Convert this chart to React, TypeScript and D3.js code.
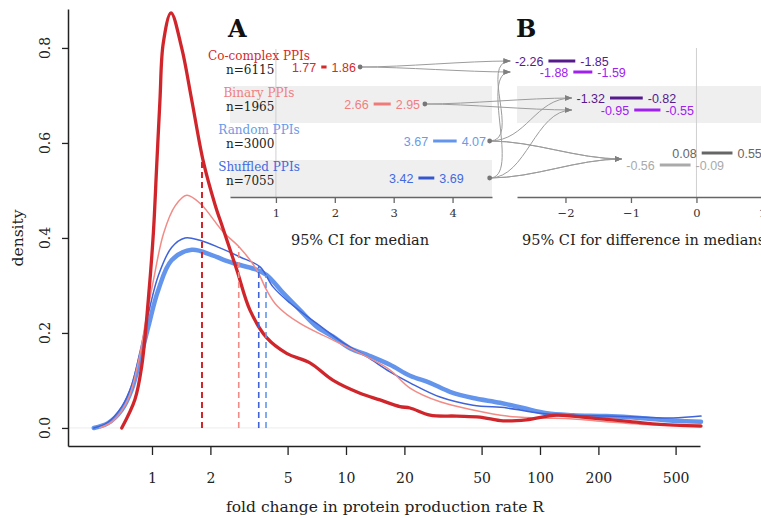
import { useEffect, useRef } from 'react';
import * as d3 from 'd3';

type Pt = [number, number];

// density curves: [log10 fold change, density]
const coComplex: Pt[] = [
  [-0.156, 0], [-0.088, 0.06], [-0.053, 0.13], [-0.019, 0.27], [0.007, 0.41], [0.024, 0.55],
  [0.041, 0.69], [0.058, 0.81], [0.098, 0.874], [0.153, 0.8], [0.205, 0.69], [0.265, 0.56],
  [0.325, 0.47], [0.366, 0.42], [0.437, 0.333], [0.505, 0.248], [0.591, 0.19], [0.694, 0.157],
  [0.814, 0.137], [0.934, 0.1], [1.072, 0.073], [1.175, 0.059], [1.278, 0.045], [1.33, 0.042],
  [1.433, 0.027], [1.57, 0.025], [1.69, 0.023], [1.81, 0.015], [1.93, 0.017], [2.086, 0.027],
  [2.258, 0.021], [2.43, 0.015], [2.6, 0.008], [2.83, 0.004],
];
const binary: Pt[] = [
  [-0.27, 0], [-0.2, 0.015], [-0.124, 0.06], [-0.07, 0.14], [-0.03, 0.23], [0.007, 0.31],
  [0.06, 0.41], [0.12, 0.468], [0.179, 0.49], [0.25, 0.472], [0.366, 0.413], [0.454, 0.379],
  [0.54, 0.333], [0.591, 0.29], [0.643, 0.258], [0.763, 0.22], [0.934, 0.185], [1.107, 0.15],
  [1.227, 0.122], [1.33, 0.084], [1.485, 0.055], [1.655, 0.038], [1.83, 0.025], [2.0, 0.021],
  [2.17, 0.019], [2.34, 0.013], [2.515, 0.008], [2.83, 0.006],
];
const random: Pt[] = [
  [-0.3, 0], [-0.227, 0.01], [-0.156, 0.038], [-0.105, 0.08], [-0.062, 0.143], [-0.019, 0.213],
  [0.032, 0.29], [0.101, 0.353], [0.205, 0.375], [0.308, 0.364], [0.376, 0.353], [0.454, 0.343],
  [0.54, 0.333], [0.591, 0.322], [0.677, 0.284], [0.763, 0.248], [0.849, 0.213], [0.934, 0.192],
  [1.02, 0.168], [1.12, 0.152], [1.227, 0.133], [1.33, 0.11], [1.433, 0.095], [1.536, 0.076],
  [1.655, 0.063], [1.794, 0.053], [1.914, 0.042], [2.035, 0.031], [2.17, 0.027], [2.34, 0.025],
  [2.515, 0.021], [2.686, 0.015], [2.83, 0.013],
];
const shuffled: Pt[] = [
  [-0.3, 0], [-0.227, 0.012], [-0.156, 0.045], [-0.105, 0.09], [-0.062, 0.16], [-0.019, 0.24],
  [0.032, 0.32], [0.101, 0.38], [0.17, 0.4], [0.247, 0.395], [0.35, 0.379], [0.454, 0.36],
  [0.557, 0.339], [0.624, 0.297], [0.711, 0.263], [0.849, 0.22], [0.986, 0.179], [1.107, 0.15],
  [1.227, 0.118], [1.33, 0.095], [1.485, 0.065], [1.655, 0.048], [1.83, 0.042], [2.0, 0.031],
  [2.17, 0.027], [2.34, 0.025], [2.515, 0.023], [2.686, 0.021], [2.83, 0.025],
];

const groupNames = ['Co-complex PPIs', 'Binary PPIs', 'Random PPIs', 'Shuffled PPIs'];
const groupN = [6115, 1965, 3000, 7055];
const medians = [1.81, 2.8, 3.87, 3.55];
const medianCI: [number, number][] = [[1.77, 1.86], [2.66, 2.95], [3.67, 4.07], [3.42, 3.69]];
const anchorValues = [2.43, 3.53, 4.63, 4.63];

// differences in medians and which groups they compare
const diffCI: [number, number][] = [
  [-2.26, -1.85], [-1.88, -1.59], [-1.32, -0.82], [-0.95, -0.55], [0.08, 0.55], [-0.56, -0.09],
];
const diffPairs: [number, number][] = [[0, 2], [0, 3], [1, 2], [1, 3], [2, 3], [3, 2]];

const xTicks = [1, 2, 5, 10, 20, 50, 100, 200, 500];
const yTicks = [0, 0.2, 0.4, 0.6, 0.8];
const aTicks = [1, 2, 3, 4];
const bTicks = [-2, -1, 0, 1];

const curves = [coComplex, binary, random, shuffled];
const curveColors = ['#d0262b', '#f28b86', '#6495ed', '#3f63d8'];
const curveWidths = [3.3, 1.5, 4.5, 1.5];
const textColors = ['#d42a2a', '#f08080', '#6a9be8', '#4169e1'];
const segColors = ['#d42a2a', '#f07a7a', '#6495ed', '#3556cc'];
const diffColors = ['#551a8b', '#a020f0', '#551a8b', '#a020f0', '#666666', '#aaaaaa'];
const diffRowY = [61, 72, 98, 110, 153, 165];
const diffTipY = [61, 72, 98, 110, 159, 159];

const SERIF = "'DejaVu Serif', serif";
const SANS = "'Liberation Sans', Arial, sans-serif";

function interp(series: Pt[], lg: number) {
  for (let i = 1; i < series.length; i++) {
    const [x0, y0] = series[i - 1];
    const [x1, y1] = series[i];
    if (lg >= x0 && lg <= x1) return y0 + ((lg - x0) / (x1 - x0)) * (y1 - y0);
  }
  return 0;
}

export default function App() {
  const svgRef = useRef<SVGSVGElement>(null);

  useEffect(() => {
    if (!svgRef.current) return;
    const svg = d3.select(svgRef.current);
    svg.selectAll('*').remove();

    const x = d3.scaleLog().domain([0.369, 668]).range([68, 700]);
    const y = d3.scaleLinear().domain([-0.038, 0.882]).range([446, 9]);

    svg.append('defs').append('marker')
      .attr('id', 'arr')
      .attr('viewBox', '0 0 10 10')
      .attr('refX', 10).attr('refY', 5)
      .attr('markerWidth', 7).attr('markerHeight', 7)
      .attr('orient', 'auto')
      .append('path').attr('d', 'M0,1L10,5L0,9z').attr('fill', '#808080');

    // zero line
    svg.append('line')
      .attr('x1', 68).attr('x2', 700)
      .attr('y1', y(0)).attr('y2', y(0))
      .attr('stroke', '#ececec');

    // axes
    const xAxis = svg.append('g')
      .attr('transform', 'translate(0,446)')
      .call(d3.axisBottom(x).tickValues(xTicks).tickFormat(d3.format('d'))
        .tickSize(9).tickSizeOuter(0).tickPadding(18));
    const yAxis = svg.append('g')
      .attr('transform', 'translate(68,0)')
      .call(d3.axisLeft(y).tickValues(yTicks).tickFormat(() => '')
        .tickSize(6).tickSizeOuter(0));
    [xAxis, yAxis].forEach(a => {
      a.select('.domain').attr('stroke', '#222').attr('stroke-width', 1.5);
      a.selectAll('.tick line').attr('stroke', '#222').attr('stroke-width', 1.3);
      a.selectAll('text').attr('font-family', SERIF).attr('font-size', 14).attr('fill', '#222');
    });
    svg.selectAll('.ytl').data(yTicks).enter().append('text')
      .attr('transform', d => `translate(50,${y(d)}) rotate(-90)`)
      .attr('text-anchor', 'middle')
      .attr('font-family', SERIF).attr('font-size', 14).attr('fill', '#222')
      .text(d => d3.format('.1f')(d));

    svg.append('text')
      .attr('transform', `translate(23,${y(0.4)}) rotate(-90)`)
      .attr('text-anchor', 'middle')
      .attr('font-family', SERIF).attr('font-size', 15.5).attr('fill', '#222')
      .text('density');
    svg.append('text')
      .attr('x', 385).attr('y', 512)
      .attr('text-anchor', 'middle')
      .attr('font-family', SERIF).attr('font-size', 15.5).attr('fill', '#222')
      .text('fold change in protein production rate R');

    // density curves
    const line = d3.line<Pt>()
      .x(d => x(10 ** d[0]))
      .y(d => y(d[1]))
      .curve(d3.curveCatmullRom.alpha(0.5));
    [2, 3, 1, 0].forEach(i => {
      svg.append('path')
        .datum(curves[i])
        .attr('fill', 'none')
        .attr('stroke', curveColors[i])
        .attr('stroke-width', curveWidths[i])
        .attr('stroke-linejoin', 'round')
        .attr('stroke-linecap', 'round')
        .attr('d', line);
    });

    // median markers
    medians.forEach((m, i) => {
      svg.append('line')
        .attr('x1', x(m)).attr('x2', x(m))
        .attr('y1', y(0)).attr('y2', y(interp(curves[i], Math.log10(m))))
        .attr('stroke', curveColors[i])
        .attr('stroke-width', i === 0 ? 2 : 1.6)
        .attr('stroke-dasharray', '6,4');
    });

    // ---------- inset A ----------
    const xA = d3.scaleLinear().domain([0.22, 4.67]).range([230, 492]);
    const rowTop = (i: number) => 49 + 37 * i;

    [1, 3].forEach(i => {
      svg.append('rect')
        .attr('x', 230).attr('y', rowTop(i))
        .attr('width', 262).attr('height', 37)
        .attr('fill', '#efefef');
    });
    svg.append('rect')
      .attr('x', 517).attr('y', rowTop(1))
      .attr('width', 250).attr('height', 37)
      .attr('fill', '#efefef');

    svg.append('line')
      .attr('x1', xA(1)).attr('x2', xA(1)).attr('y1', 49).attr('y2', 197)
      .attr('stroke', '#cfcfcf');

    const aAxis = svg.append('g')
      .attr('transform', 'translate(0,197)')
      .call(d3.axisBottom(xA).tickValues(aTicks).tickFormat(d3.format('d'))
        .tickSize(6).tickSizeOuter(0).tickPadding(6));

    // ---------- inset B ----------
    const xB = d3.scaleLinear().domain([-2.74, 1.1]).range([517, 768.5]);
    svg.append('line')
      .attr('x1', xB(0)).attr('x2', xB(0)).attr('y1', 48).attr('y2', 197)
      .attr('stroke', '#cfcfcf');
    const bAxis = svg.append('g')
      .attr('transform', 'translate(0,197)')
      .call(d3.axisBottom(xB).tickValues(bTicks).tickFormat(d3.format('d'))
        .tickSize(6).tickSizeOuter(0).tickPadding(6));

    [aAxis, bAxis].forEach(a => {
      a.select('.domain').attr('stroke', '#666').attr('stroke-width', 1.5);
      a.selectAll('.tick line').attr('stroke', '#666').attr('stroke-width', 1.3);
      a.selectAll('text').attr('font-family', SERIF).attr('font-size', 11.5).attr('fill', '#333');
    });

    svg.append('text')
      .attr('x', 360).attr('y', 245)
      .attr('text-anchor', 'middle')
      .attr('font-family', SERIF).attr('font-size', 14.5).attr('fill', '#222')
      .text('95% CI for median');
    svg.append('text')
      .attr('x', 522).attr('y', 245)
      .attr('font-family', SERIF).attr('font-size', 14.5).attr('fill', '#222')
      .text('95% CI for difference in medians');

    svg.append('text')
      .attr('x', 228).attr('y', 37)
      .attr('font-family', SERIF).attr('font-weight', 'bold').attr('font-size', 24)
      .attr('fill', '#111').text('A');
    svg.append('text')
      .attr('x', 516).attr('y', 37)
      .attr('font-family', SERIF).attr('font-weight', 'bold').attr('font-size', 24)
      .attr('fill', '#111').text('B');

    // arrows from groups to comparisons
    const arrows = svg.append('g');
    diffCI.forEach((ci, i) => {
      const row = Math.floor(i / 2);
      const tipX = Math.min(xB(diffCI[row * 2][0]), xB(diffCI[row * 2 + 1][0])) - 38;
      const tipY = diffTipY[i];
      diffPairs[i].forEach(g => {
        const x0 = xA(anchorValues[g]);
        const y0 = rowTop(g) + 18;
        const dx = tipX - x0;
        const k = dx < 40 ? 32 : Math.min(dx * 0.45, 45);
        const p = d3.path();
        p.moveTo(x0, y0);
        p.bezierCurveTo(x0 + k, y0, tipX - k, tipY, tipX, tipY);
        arrows.append('path')
          .attr('d', p.toString())
          .attr('fill', 'none')
          .attr('stroke', '#9c9c9c')
          .attr('stroke-width', 1)
          .attr('marker-end', 'url(#arr)');
      });
    });

    // group rows
    groupNames.forEach((name, i) => {
      const t = rowTop(i);
      svg.append('text')
        .attr('x', 259).attr('y', t + 11)
        .attr('text-anchor', 'middle')
        .attr('font-family', SERIF).attr('font-size', 12)
        .attr('fill', textColors[i]).text(name);
      svg.append('text')
        .attr('x', 226).attr('y', t + 25)
        .attr('font-family', SERIF).attr('font-size', 12)
        .attr('fill', '#222').text(`n=${groupN[i]}`);
      const [lo, hi] = medianCI[i];
      const cy = t + 18;
      svg.append('line')
        .attr('x1', xA(lo)).attr('x2', xA(hi)).attr('y1', cy).attr('y2', cy)
        .attr('stroke', segColors[i]).attr('stroke-width', 3);
      svg.append('text')
        .attr('x', xA(lo) - 5).attr('y', cy + 4.5)
        .attr('text-anchor', 'end')
        .attr('font-family', SANS).attr('font-size', 12.5)
        .attr('fill', textColors[i]).text(lo.toFixed(2));
      svg.append('text')
        .attr('x', xA(hi) + 5).attr('y', cy + 4.5)
        .attr('font-family', SANS).attr('font-size', 12.5)
        .attr('fill', textColors[i]).text(hi.toFixed(2));
      svg.append('circle')
        .attr('cx', xA(anchorValues[i])).attr('cy', cy).attr('r', 2.4)
        .attr('fill', '#777');
    });

    // comparison rows
    diffCI.forEach(([lo, hi], i) => {
      const cy = diffRowY[i];
      svg.append('line')
        .attr('x1', xB(lo)).attr('x2', xB(hi)).attr('y1', cy).attr('y2', cy)
        .attr('stroke', diffColors[i]).attr('stroke-width', 3);
      svg.append('text')
        .attr('x', xB(lo) - 5).attr('y', cy + 4.5)
        .attr('text-anchor', 'end')
        .attr('font-family', SANS).attr('font-size', 12.5)
        .attr('fill', diffColors[i]).text(lo.toFixed(2));
      svg.append('text')
        .attr('x', xB(hi) + 5).attr('y', cy + 4.5)
        .attr('font-family', SANS).attr('font-size', 12.5)
        .attr('fill', diffColors[i]).text(hi.toFixed(2));
    });
  }, []);

  return (
    <svg
      ref={svgRef}
      width={761}
      height={518}
      style={{ position: 'absolute', left: 0, top: 0, background: '#fff' }}
    />
  );
}
